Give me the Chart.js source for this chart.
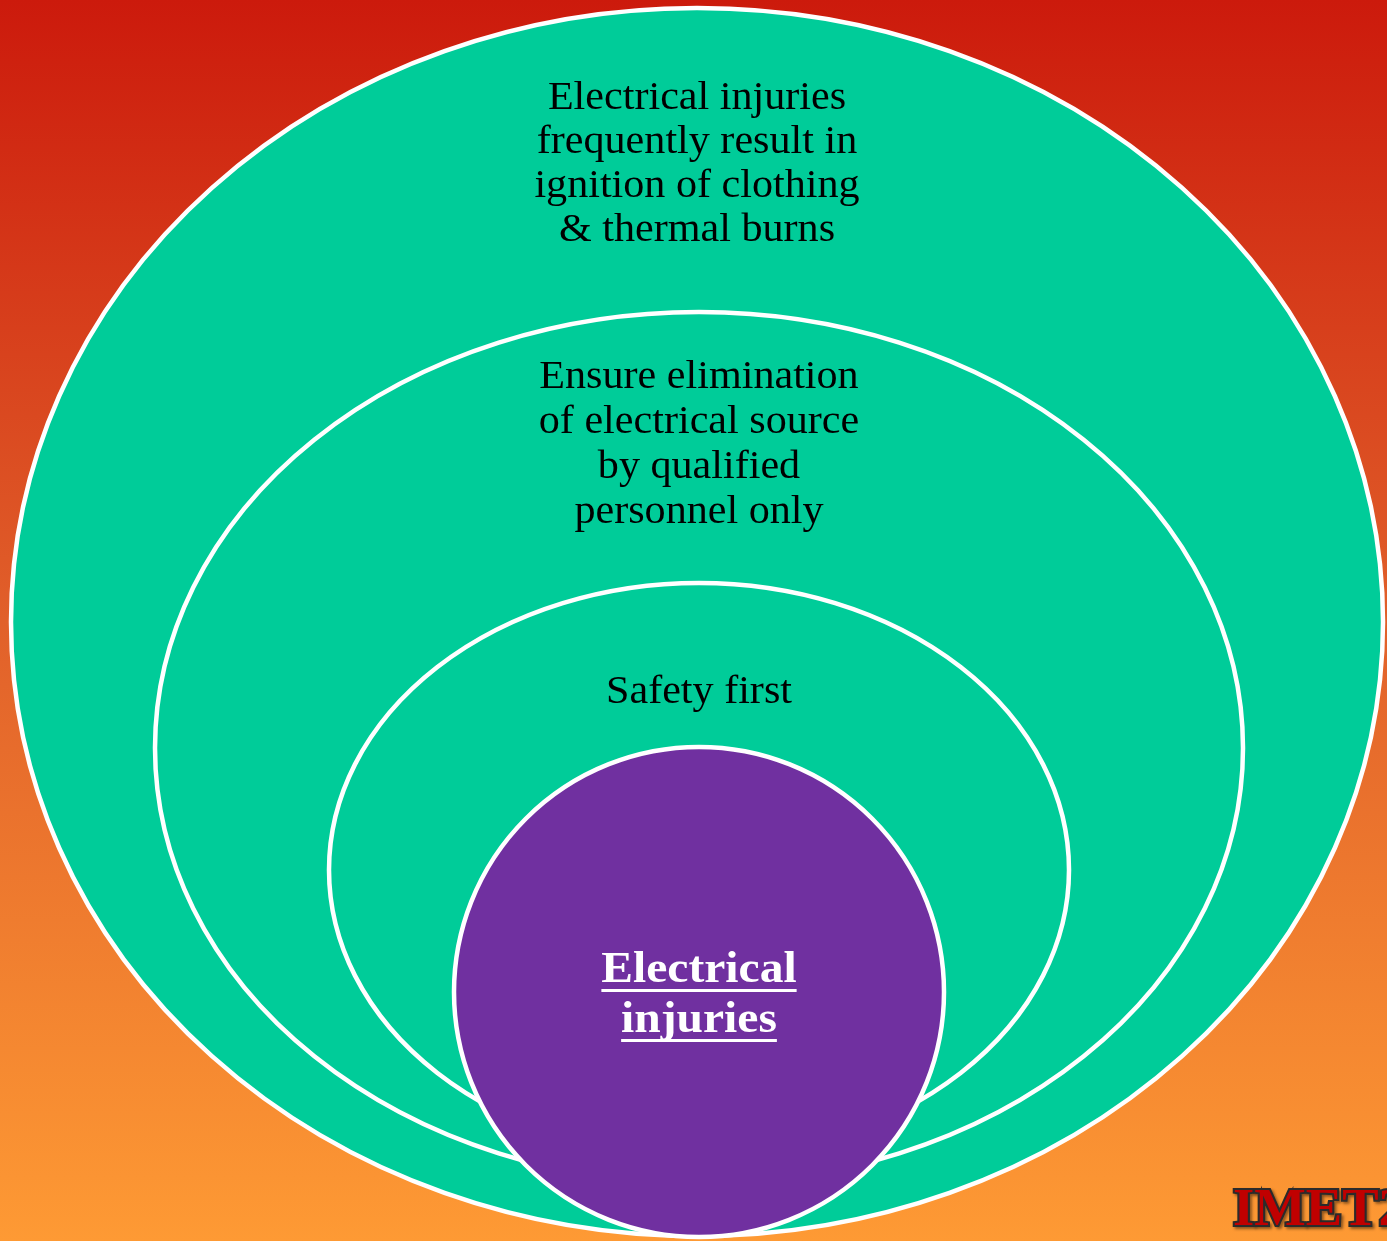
<!DOCTYPE html>
<html lang="en">
<head>
  <meta charset="UTF-8" />
  <title>Electrical injuries</title>
  <script src="https://cdn.jsdelivr.net/npm/chart.js"></script>
  <style>
    html, body { margin: 0; padding: 0; }
    body {
      width: 1387px; height: 1241px; overflow: hidden;
      background: linear-gradient(to bottom, #cc1a0c 0%, #e1602a 50%, #fe9a34 100%);
    }
    .wrap { position: relative; width: 1387px; height: 1241px; }
  </style>
</head>
<body>
  <div class="wrap">
    <canvas id="layersChart" width="1387" height="1241"></canvas>
  </div>

  <script>
    // Layers, outermost first
    const layerNames = ['Consequence', 'Action', 'Principle', 'Core'];
    const layerText = [
      ['Electrical injuries', 'frequently result in', 'ignition of clothing', '& thermal burns'],
      ['Ensure elimination', 'of electrical source', 'by qualified', 'personnel only'],
      ['Safety first'],
      ['Electrical', 'injuries']
    ];
    const watermark = 'IMET2';

    // layout (scale units = pixels of the 1387x1241 plane)
    const centreX = [697, 699, 699, 699];
    const centreY = [622, 748, 870, 992];
    const radiusX = [686, 544, 370, 245];
    const radiusY = [614, 436, 287, 245];
    const textBaseline = [109, 388, 703, 982];
    const lineGap = [44, 45, 44, 50];

    const fills = ['#00cc99', '#00cc99', '#00cc99', '#7030a0'];
    const textColors = ['#000000', '#000000', '#000000', '#ffffff'];

    const points = layerNames.map((n, i) => ({ x: centreX[i], y: centreY[i] }));

    // draws every layer as an ellipse through the chart's own scales
    const ellipsePlugin = {
      id: 'ellipses',
      afterDatasetsDraw(chart) {
        const ctx = chart.ctx;
        const xs = chart.scales.x, ys = chart.scales.y;
        chart.data.datasets[0].data.forEach((p, i) => {
          const px = xs.getPixelForValue(p.x);
          const py = ys.getPixelForValue(p.y);
          const rx = Math.abs(xs.getPixelForValue(p.x + radiusX[i]) - px);
          const ry = Math.abs(ys.getPixelForValue(p.y + radiusY[i]) - py);
          ctx.save();
          ctx.beginPath();
          ctx.ellipse(px, py, rx, ry, 0, 0, Math.PI * 2);
          ctx.fillStyle = fills[i];
          ctx.fill();
          ctx.lineWidth = 4.5;
          ctx.strokeStyle = '#ffffff';
          ctx.stroke();
          ctx.restore();
        });

        // labels
        layerText.forEach((lines, i) => {
          const core = i === layerText.length - 1;
          ctx.save();
          ctx.font = core ? 'bold 44px "Liberation Serif"' : '39px "Liberation Serif"';
          ctx.fillStyle = textColors[i];
          ctx.textAlign = 'center';
          ctx.textBaseline = 'alphabetic';
          const cx = xs.getPixelForValue(centreX[i]);
          lines.forEach((line, k) => {
            const by = ys.getPixelForValue(textBaseline[i] + k * lineGap[i]);
            ctx.save();
            ctx.translate(cx, by);
            ctx.scale(1.08, 1);
            ctx.fillText(line, 0, 0);
            if (core) {
              const w = ctx.measureText(line).width;
              ctx.fillRect(-w / 2, 7, w, 3);
            }
            ctx.restore();
          });
          ctx.restore();
        });

        // corner mark
        ctx.save();
        ctx.font = 'bold 52px "Liberation Serif"';
        ctx.textAlign = 'left';
        ctx.textBaseline = 'alphabetic';
        ctx.translate(xs.getPixelForValue(1233), ys.getPixelForValue(1225));
        ctx.scale(1.05, 1);
        ctx.shadowColor = 'rgba(0,0,0,0.45)';
        ctx.shadowOffsetX = 2;
        ctx.shadowOffsetY = 2;
        ctx.shadowBlur = 3;
        ctx.lineWidth = 4;
        ctx.strokeStyle = '#2b2b2b';
        ctx.strokeText(watermark, 0, 0);
        ctx.shadowColor = 'transparent';
        ctx.fillStyle = '#c00000';
        ctx.fillText(watermark, 0, 0);
        ctx.restore();
      }
    };

    new Chart(document.getElementById('layersChart'), {
      type: 'scatter',
      data: {
        datasets: [{
          label: 'Layers',
          data: points,
          pointRadius: 0,
          pointHoverRadius: 0
        }]
      },
      options: {
        responsive: false,
        animation: false,
        devicePixelRatio: 1,
        layout: { padding: 0 },
        plugins: { legend: { display: false }, tooltip: { enabled: false } },
        scales: {
          x: { type: 'linear', min: 0, max: 1387, display: false },
          y: { type: 'linear', min: 0, max: 1241, reverse: true, display: false }
        }
      },
      plugins: [ellipsePlugin]
    });
  </script>
</body>
</html>
